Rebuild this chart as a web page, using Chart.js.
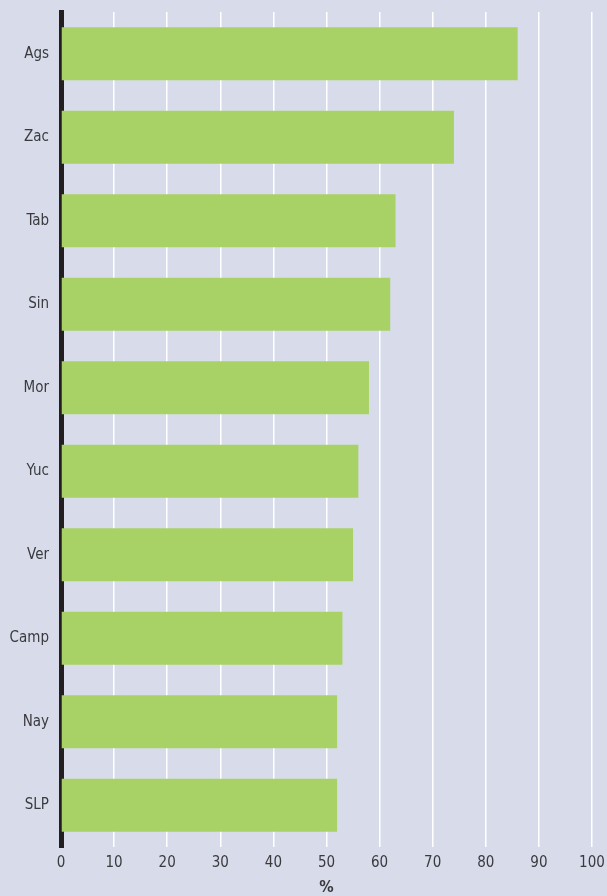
<!DOCTYPE html>
<html>
<head>
<meta charset="utf-8">
<script src="https://cdn.jsdelivr.net/npm/chart.js@4/dist/chart.umd.min.js"></script>
<style>
  html, body { margin: 0; padding: 0; background: #d8dcea; }
  #wrap { width: 607px; height: 896px; position: relative; }
</style>
</head>
<body>
<div id="wrap"><canvas id="chart"></canvas></div>
<script>
const states = ['Ags', 'Zac', 'Tab', 'Sin', 'Mor', 'Yuc', 'Ver', 'Camp', 'Nay', 'SLP'];
const shares = [86, 74, 63, 62, 58, 56, 55, 53, 52, 52];
const xTicks = [0, 10, 20, 30, 40, 50, 60, 70, 80, 90, 100];

const FONT = '"DejaVu Sans Condensed", "Liberation Sans Narrow", Roboto, sans-serif';
const INK = '#3a3a3e';

// keep the plot area fixed; no extra room for overhanging labels
function noOverhang(s) {
  s.paddingLeft = 0; s.paddingRight = 0;
  s.paddingTop = 0; s.paddingBottom = 0;
}

new Chart(document.getElementById('chart'), {
  type: 'bar',
  data: {
    labels: states,
    datasets: [{
      data: shares,
      backgroundColor: '#a8d266',
      borderWidth: 0,
      categoryPercentage: 1,
      barPercentage: 0.635
    }]
  },
  options: {
    indexAxis: 'y',
    responsive: true,
    maintainAspectRatio: false,
    animation: false,
    layout: { padding: { top: 12, right: 15, left: 0, bottom: 0 } },
    plugins: { legend: { display: false }, tooltip: { enabled: false } },
    scales: {
      x: {
        min: 0, max: 100,
        afterBuildTicks: s => { s.ticks = xTicks.map(v => ({ value: v })); },
        afterFit: s => { s.height = 49; noOverhang(s); },
        grid: { color: '#ffffff', lineWidth: 1.5, drawTicks: false },
        border: { display: false },
        ticks: { padding: 7, color: INK, font: { family: FONT, size: 15 } },
        title: {
          display: true, text: '%', color: INK,
          font: { family: FONT, size: 16, weight: 'bold', lineHeight: 1 },
          padding: { top: 0, bottom: 0 }
        }
      },
      y: {
        afterFit: s => { s.width = 61; noOverhang(s); },
        grid: { display: false, drawTicks: false },
        border: { display: true, color: '#231f20', width: 5 },
        ticks: { padding: 12, color: INK, font: { family: FONT, size: 15 } }
      }
    }
  }
});
</script>
</body>
</html>
